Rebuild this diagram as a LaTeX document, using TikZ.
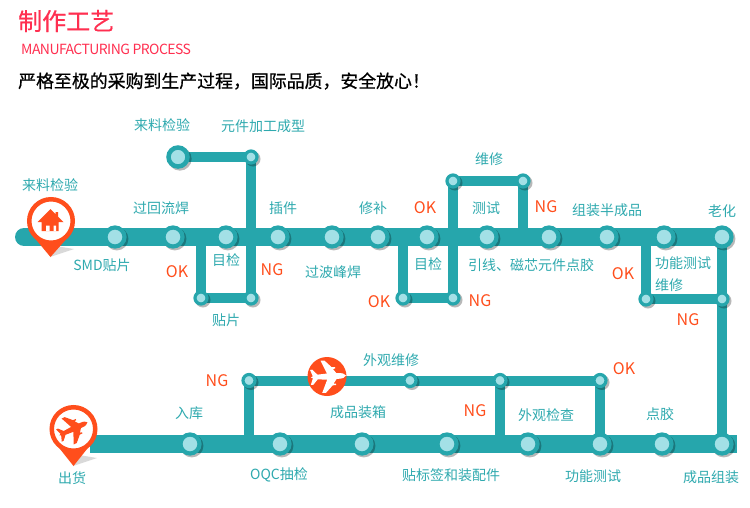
\documentclass[tikz,border=0pt]{standalone}
\usepackage{fontspec}
\setmainfont{Noto Sans CJK SC}
\usetikzlibrary{backgrounds,shadows}
\definecolor{teal1}{HTML}{26A6AC}
\definecolor{tealtxt}{HTML}{2EA9AE}
\definecolor{inner}{HTML}{A3E0E6}
\definecolor{orng}{HTML}{FF4E1C}
\definecolor{redt}{HTML}{FF2F50}
\tikzset{
  x=1pt,y=-1pt,
  station/.style={circle,fill=inner,draw=teal1,line width=4.2pt,minimum size=19pt,inner sep=0pt,
    drop shadow={shadow xshift=1.5pt,shadow yshift=-1.5pt,shadow scale=1.22,fill=black,opacity=.28}},
  smallst/.style={circle,fill=inner,draw=teal1,line width=3.2pt,minimum size=12pt,inner sep=0pt,
    drop shadow={shadow xshift=1.5pt,shadow yshift=-1.5pt,shadow scale=1.27,fill=black,opacity=.28}},
  bigst/.style={circle,fill=inner,draw=teal1,line width=4.5pt,minimum size=19pt,inner sep=0pt,
    drop shadow={shadow xshift=1.5pt,shadow yshift=-1.5pt,shadow scale=1.24,fill=black,opacity=.28}},
  mainline/.style={draw=teal1,line width=18pt},
  branch/.style={draw=teal1,line width=10pt},
  lbl/.style={text=tealtxt,font=\fontsize{14}{14}\selectfont,inner sep=0pt},
  okng/.style={text=orng,font=\fontsize{16}{16}\selectfont,inner sep=0pt},
  pinring/.style={circle,fill=white,draw=orng,line width=4.5pt,minimum size=43.5pt,inner sep=0pt},
  planeicon/.pic={\fill[pic actions]
    (19,0) .. controls (18,-2) and (15,-3) .. (11,-3) -- (9,-3) -- (5.5,-7.7) -- (8,-8) -- (8,-9.5) -- (4.5,-9.5) -- (-3,-17) -- (-7,-17) -- (-1,-3.2)
    -- (-11,-2.5) -- (-16,-8) -- (-18.5,-8) -- (-16,-1) -- (-18,0) -- (-16,1) -- (-18.5,8) -- (-16,8) -- (-11,2.5) -- (-1,3.2)
    -- (-7,17) -- (-3,17) -- (4.5,9.5) -- (8,9.5) -- (8,8) -- (5.5,7.7) -- (9,3) -- (11,3) .. controls (15,3) and (18,2) .. (19,0) -- cycle;},
}
\begin{document}
\begin{tikzpicture}
\useasboundingbox (0,0) rectangle (750,507);
% stations, first row
\coordinate (start) at (24,237);
\foreach \n/\px in {a1/115,a2/173,a3/226,a4/278,a5/332,a6/378,a7/427,a8/487,a9/549,a10/607,a11/664,a12/722}
  {\node[station] (\n) at (\px,237) {};}
\coordinate (j1) at (251,237);
\coordinate (j2) at (201,237);
\coordinate (j3) at (453,237);
\coordinate (j4) at (523,237);
\coordinate (j5) at (403,237);
\coordinate (j6) at (646,237);
\node[bigst] (top0) at (178,157) {};
\node[smallst] (top1) at (251,157) {};
\node[smallst] (l1) at (201,298) {};
\node[smallst] (l2) at (251,298) {};
\node[smallst] (u1) at (453,181) {};
\node[smallst] (u2) at (523,181) {};
\node[smallst] (l3) at (403,298) {};
\node[smallst] (l4) at (453,298) {};
\node[smallst] (r1) at (646,299) {};
\node[smallst] (r2) at (722,299) {};
% bottom row
\coordinate (bl) at (90,444);
\coordinate (br) at (737,444);
\foreach \n/\px in {b1/190,b2/280,b3/362,b4/447,b5/528,b6/600,b7/662,b8/722}
  {\node[station] (\n) at (\px,444) {};}
\coordinate (j7) at (249,444);
\coordinate (j8) at (500,444);
\node[smallst] (m1) at (249,380.5) {};
\node[smallst] (m2) at (410,380.5) {};
\node[smallst] (m3) at (500,380.5) {};
\node[smallst] (m4) at (600,380.5) {};
\begin{scope}[on background layer]
  \draw[mainline] (a1.center) -- (a12.center);
  \draw[draw=teal1,line width=18pt,line cap=round] (start) -- (a1.center);
  \draw[mainline] (bl) -- (br);
  \draw[branch] (top0.center) -- (top1.center) -- (j1);
  \draw[branch] (j2) -- (l1.center) -- (l2.center) -- (j1);
  \draw[branch] (j3) -- (u1.center) -- (u2.center) -- (j4);
  \draw[branch] (j5) -- (l3.center) -- (l4.center) -- (j3);
  \draw[branch] (j6) -- (r1.center) -- (r2.center);
  \draw[branch] (a12.center) -- (b8.center);
  \draw[branch] (j7) -- (m1.center) -- (m4.center) -- (b6.center);
  \draw[branch] (m3.center) -- (j8);
\end{scope}
% pin 1 (house)
\fill[black,opacity=.15] (50,257) -- (74,249) -- (56,246) -- cycle;
\fill[orng] (33,236) -- (50.5,257) -- (69,236) -- cycle;
\node[pinring] (pin1) at (51,221) {};
\fill[orng] (50.5,209) -- (37.5,222) -- (41.5,222) -- (41.5,231) -- (58.5,231) -- (58.5,222) -- (63.5,222) -- (58,216.5) -- (58,212) -- (55.5,212) -- (55.5,214) -- cycle;
\fill[white] (46,225.5) rectangle (49.5,231) (53.5,225.5) rectangle (56,231);
% pin 2 (plane)
\fill[black,opacity=.15] (73,466) -- (97,458) -- (79,455) -- cycle;
\fill[orng] (56,444) -- (73.5,466) -- (91,444) -- cycle;
\node[pinring] (pin2) at (73.5,429) {};
\pic[orng,scale=.84,rotate=25] at (73,429) {planeicon};
% plane disc
\node[circle,fill=orng,minimum size=39pt,inner sep=0pt] (disc) at (327,376.5) {};
\pic[white,scale=.95,rotate=3] at (328,376.5) {planeicon};
% header
\node[anchor=west,inner sep=0pt,text=redt,font=\fontsize{24}{24}\selectfont] (title) at (18,21) {\addfontfeature{FakeBold=0.4}制作工艺};
\node[anchor=west,inner sep=0pt,text=redt,font=\fontsize{14}{14}\selectfont] (sub) at (21,49) {\addfontfeature{LetterSpace=-4}MANUFACTURING PROCESS};
\node[anchor=west,inner sep=0pt,text=black,font=\fontsize{17.9}{18}\selectfont] (head) at (18,81) {\addfontfeature{FakeBold=0.8}严格至极的采购到生产过程，国际品质，安全放心！};
% labels
\foreach \n/\px/\py/\t in {
 t1/162/125/来料检验, t2/263/126/元件加工成型, t3/50/185/来料检验, t4/161/208/过回流焊,
 t5/102/265/SMD贴片, t6/226/260/目检, t7/283/208/插件, t8/333/272/过波峰焊,
 t9/226/320/贴片, t10/373/208/修补, t11/428/264/目检, t12/489/159/维修,
 t13/486/208/测试, t14/531/265/引线、磁芯元件点胶, t15/607/210/组装半成品, t16/722/211/老化,
 t17/683/263/功能测试, t18/669/285/维修, t19/391/360/外观维修, t20/189/413/入库,
 t21/358/412/成品装箱, t22/546/415/外观检查, t23/660/414/点胶, t24/72/478/出货,
 t25/279/475/OQC抽检, t26/451/475/贴标签和装配件, t27/593/476/功能测试, t28/711/477/成品组装}
 {\node[lbl] (\n) at (\px,\py) {\t};}
\foreach \n/\px/\py/\t in {
 k1/177/272/OK, k2/272/270/NG, k3/425/208/OK, k4/546/207/NG, k5/379/302/OK, k6/480/301/NG,
 k7/623/274/OK, k8/688/320/NG, k9/217/381/NG, k10/475/411/NG, k11/624/369/OK}
 {\node[okng] (\n) at (\px,\py) {\t};}
\end{tikzpicture}
\end{document}
